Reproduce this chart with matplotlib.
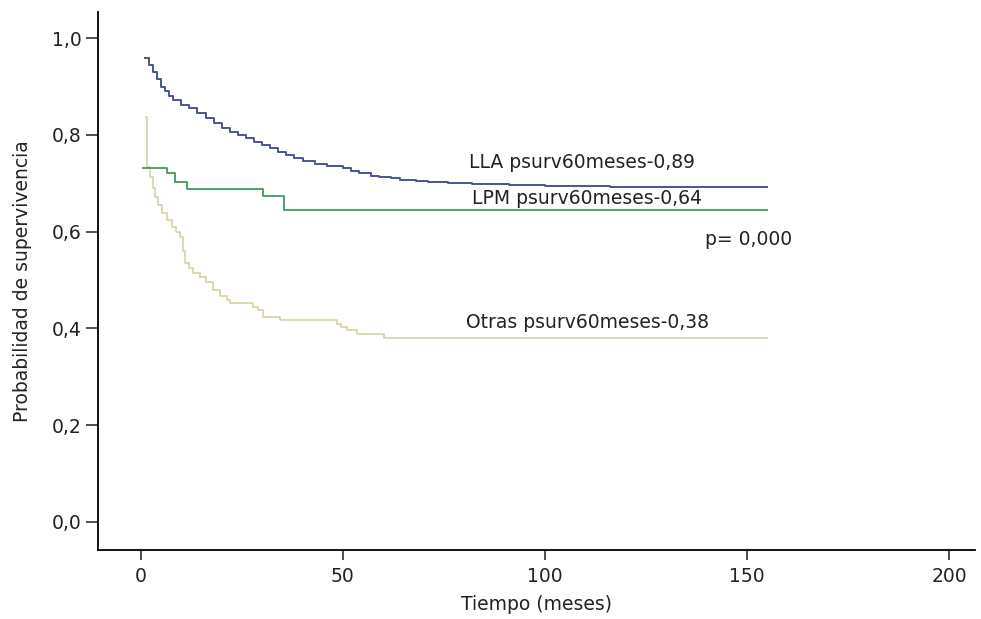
import numpy as np
import matplotlib.pyplot as plt

# Kaplan-Meier curves (time in months, survival)
t_lla = [1, 2, 3, 4, 5, 6, 7, 8, 10, 12, 14, 16, 18, 20, 22, 24, 26, 28, 30, 32,
         34, 36, 38, 40, 43, 46, 50, 52, 54, 57, 59, 62, 64, 68, 71, 76, 82, 91,
         100, 116, 155]
s_lla = [0.96, 0.945, 0.93, 0.915, 0.90, 0.89, 0.88, 0.872, 0.862, 0.855, 0.845,
         0.835, 0.825, 0.815, 0.807, 0.80, 0.793, 0.786, 0.779, 0.772, 0.765,
         0.758, 0.752, 0.746, 0.739, 0.735, 0.731, 0.726, 0.721, 0.716, 0.713,
         0.71, 0.707, 0.704, 0.702, 0.70, 0.698, 0.696, 0.694, 0.692, 0.692]

t_lpm = [0.5, 6.4, 8.4, 11.5, 30.2, 35.3, 155]
s_lpm = [0.731, 0.721, 0.702, 0.688, 0.674, 0.645, 0.645]

t_otras = [1.2, 1.4, 2.2, 3.0, 3.5, 4.3, 5.2, 6.4, 7.7, 8.7, 9.7, 10.5, 10.9, 12.0,
           12.9, 14.6, 16.0, 17.8, 19.5, 21.3, 22.0, 27.7, 29.0, 30.2, 34.4, 48.5,
           49.5, 51.0, 53.5, 60.2, 155]
s_otras = [0.837, 0.733, 0.713, 0.69, 0.671, 0.655, 0.638, 0.624, 0.61, 0.60, 0.589,
           0.56, 0.535, 0.524, 0.514, 0.506, 0.495, 0.479, 0.468, 0.459, 0.452,
           0.445, 0.438, 0.424, 0.417, 0.410, 0.403, 0.397, 0.388, 0.38, 0.38]

labels = ['LLA psurv60meses-0,89', 'LPM psurv60meses-0,64', 'Otras psurv60meses-0,38']
label_pos = [(109.2, 0.744), (110.4, 0.669), (110.6, 0.413)]
p_text = 'p= 0,000'

fs = 13.5
fig = plt.figure(figsize=(9.81, 6.19), dpi=100)
ax = fig.add_axes([0.0999, 0.1115, 0.894, 0.869])

ax.step(t_otras, s_otras, where='post', color='#d8d2a2', lw=1.2)
ax.step(t_lpm, s_lpm, where='post', color='#3d9a5c', lw=1.3)
ax.step(t_lla, s_lla, where='post', color='#4b5399', lw=1.4)

for txt, (x, y) in zip(labels, label_pos):
    ax.text(x, y, txt, ha='center', va='center', fontsize=fs, color='#222222')
ax.text(139.5, 0.583, p_text, ha='left', va='center', fontsize=fs, color='#222222')

ax.set_xlim(-10.6, 206.4)
ax.set_ylim(-0.058, 1.054)
ax.set_xticks([0, 50, 100, 150, 200])
ax.set_yticks([0, 0.2, 0.4, 0.6, 0.8, 1.0])
ax.set_yticklabels(['0,0', '0,2', '0,4', '0,6', '0,8', '1,0'])
ax.spines['top'].set_visible(False)
ax.spines['right'].set_visible(False)
for s in ['left', 'bottom']:
    ax.spines[s].set_linewidth(1.3)
ax.tick_params(axis='y', direction='out', length=9, width=1.1, pad=3,
               labelsize=fs, colors='#222222')
ax.tick_params(axis='x', direction='out', length=7, width=1.1, pad=5,
               labelsize=fs, colors='#222222')
ax.set_xlabel('Tiempo (meses)', fontsize=fs, color='#222222', labelpad=7)
ax.set_ylabel('Probabilidad de supervivencia', fontsize=fs, color='#222222', labelpad=14)

fig.savefig('out.png', dpi=100)
